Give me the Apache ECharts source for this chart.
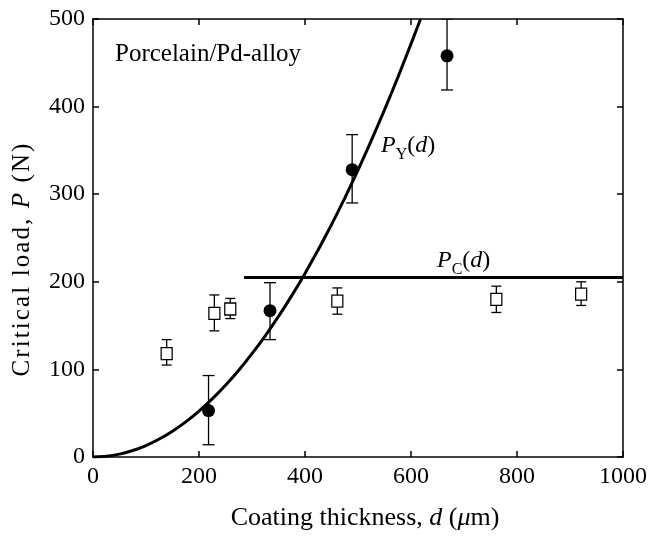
<!DOCTYPE html>
<html><head><meta charset="utf-8">
<script src="https://cdn.jsdelivr.net/npm/echarts@6/dist/echarts.min.js"></script>
<style>html,body{margin:0;padding:0;background:#fff}#c{width:650px;height:536px}</style>
</head><body><div id="c"></div>
<script>
// P_Y data (filled circles)
var pyX  = [218, 334, 489, 668];
var pyY  = [53, 167, 328, 458];
var pyLo = [14, 134, 290, 419];
var pyHi = [93, 199, 368, 500];
// P_C data (open squares)
var pcX  = [139, 229, 259, 461, 761, 921];
var pcY  = [118, 164, 169, 178, 180, 186];
var pcLo = [105, 144, 158, 163, 165, 173];
var pcHi = [134, 185, 181, 193, 195, 200];
// P_Y(d) curve
var curveX = [0, 25, 50, 75, 100, 125, 150, 175, 200, 225, 250, 275, 300, 325, 350, 375, 400, 425, 450, 475, 500, 525, 550, 575, 600, 618];
var curveY = [0, 0.8, 3.3, 7.4, 13.1, 20.5, 29.5, 40.1, 52.4, 66.3, 81.9, 99.1, 118, 138.4, 160.5, 184.2, 209.6, 236.6, 265.3, 295.6, 327.5, 361.1, 396.3, 433.1, 471.6, 500];
// P_C(d) horizontal line
var pcLineX = [285, 1000];
var pcLineY = [205, 205];
var xTicks = [0, 200, 400, 600, 800, 1000];
var yTicks = [0, 100, 200, 300, 400, 500];
var yTitleParts = [['Critical load, ', false], ['P', true], [' (N)', false]];

var FONT = 'Liberation Serif';
var chart = echarts.init(document.getElementById('c'), null, {renderer: 'canvas'});

function pairs(xs, ys) { return xs.map(function (x, i) { return [x, ys[i]]; }); }
function errData(xs, lo, hi) { return xs.map(function (x, i) { return [x, lo[i], hi[i]]; }); }

function errRender(halfCap) {
  return function (params, api) {
    var x = api.value(0);
    var lo = api.coord([x, api.value(1)]);
    var hi = api.coord([x, api.value(2)]);
    var st = {stroke: '#000', lineWidth: 1.3};
    return {type: 'group', children: [
      {type: 'line', shape: {x1: lo[0], y1: lo[1], x2: hi[0], y2: hi[1]}, style: st},
      {type: 'line', shape: {x1: lo[0] - halfCap, y1: lo[1], x2: lo[0] + halfCap, y2: lo[1]}, style: st},
      {type: 'line', shape: {x1: hi[0] - halfCap, y1: hi[1], x2: hi[0] + halfCap, y2: hi[1]}, style: st}
    ]};
  };
}

function axisBase(extra) {
  var a = {
    type: 'value',
    axisLine: {show: true, onZero: false, lineStyle: {color: '#000', width: 1.5}},
    axisTick: {show: true, inside: true, length: 6, lineStyle: {color: '#000', width: 1.5}},
    splitLine: {show: false},
    axisLabel: {color: '#000', fontFamily: FONT, fontSize: 24, formatter: function (v) { return String(v); }}
  };
  return Object.assign(a, extra);
}

// letter-spaced y title as rich text (one token per character)
var yTitleText = yTitleParts.map(function (p) {
  return p[0].split('').map(function (ch) { return '{' + (p[1] ? 'ci' : 'c') + '|' + ch + '}'; }).join('');
}).join('');

var subRich = {
  i: {fontFamily: FONT, fontStyle: 'italic', fontSize: 24, fill: '#000', verticalAlign: 'bottom'},
  n: {fontFamily: FONT, fontSize: 24, fill: '#000', verticalAlign: 'bottom'},
  s: {fontFamily: FONT, fontSize: 16, fill: '#000', verticalAlign: 'bottom', padding: [0, 0, -5, 0]}
};

var option = {
  backgroundColor: '#fff',
  animation: false,
  grid: {left: 93, top: 19, right: 21, bottom: 79, containLabel: false},
  xAxis: [
    axisBase({min: 0, max: 1000, interval: 200, position: 'bottom',
      name: 'Coating thickness, {i|d} ({i|\u03bc}m)', nameLocation: 'middle', nameGap: 48,
      nameTextStyle: {color: '#000', fontFamily: FONT, fontSize: 26, padding: [0, 0, 0, 14],
        rich: {i: {fontStyle: 'italic', fontFamily: FONT, fontSize: 26, color: '#000'}}}}),
    axisBase({min: 0, max: 1000, interval: 200, position: 'top', axisLabel: {show: false}})
  ],
  yAxis: [
    axisBase({min: 0, max: 500, interval: 100, position: 'left'}),
    axisBase({min: 0, max: 500, interval: 100, position: 'right', axisLabel: {show: false}})
  ],
  series: [
    {type: 'line', data: pairs(curveX, curveY), smooth: 0.2, showSymbol: false, clip: true,
      lineStyle: {color: '#000', width: 3}, z: 3},
    {type: 'line', data: pairs(pcLineX, pcLineY), showSymbol: false,
      lineStyle: {color: '#000', width: 3}, z: 3},
    {type: 'custom', renderItem: errRender(6), data: errData(pyX, pyLo, pyHi), z: 4, clip: true},
    {type: 'custom', renderItem: errRender(5), data: errData(pcX, pcLo, pcHi), z: 4},
    {type: 'scatter', data: pairs(pyX, pyY), symbol: 'circle', symbolSize: 13,
      itemStyle: {color: '#000', opacity: 1}, z: 5},
    {type: 'scatter', data: pairs(pcX, pcY), symbol: 'rect', symbolSize: [11, 12],
      itemStyle: {color: '#fff', borderColor: '#000', borderWidth: 1.3, opacity: 1}, z: 5}
  ],
  graphic: [
    {type: 'text', x: 22, y: 259, rotation: Math.PI / 2, style: {
      text: yTitleText, align: 'center', verticalAlign: 'middle',
      rich: {
        c: {fontFamily: FONT, fontSize: 25, fill: '#000', padding: [0, 2.1, 0, 0]},
        ci: {fontFamily: FONT, fontStyle: 'italic', fontSize: 25, fill: '#000', padding: [0, 2.1, 0, 0]}
      }}},
    {type: 'text', left: 115, top: 42, style: {text: 'Porcelain/Pd-alloy', font: '25px "Liberation Serif"', fill: '#000'}},
    {type: 'text', left: 381, top: 134, style: {text: '{i|P}{s|Y}{n|(}{i|d}{n|)}', rich: subRich}},
    {type: 'text', left: 437, top: 249, style: {text: '{i|P}{s|C}{n|(}{i|d}{n|)}', rich: subRich}}
  ]
};
chart.setOption(option);
</script>
</body></html>
